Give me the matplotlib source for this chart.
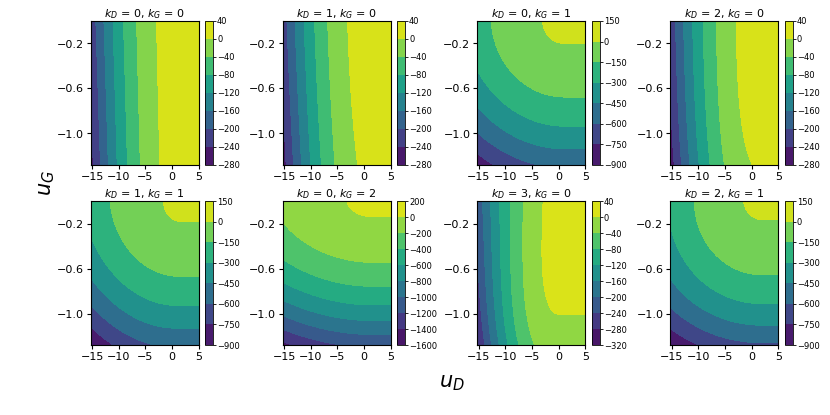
import numpy as np
import matplotlib
matplotlib.use("Agg")
import matplotlib.pyplot as plt

# ---- panel identities -------------------------------------------------------
K_D = [0, 1, 0, 2, 1, 0, 3, 2]
K_G = [0, 0, 1, 0, 1, 2, 0, 1]

# ---- axes ---------------------------------------------------------------------
U_D_RANGE = [-15.25, 5.0]
U_G_RANGE = [-1.28, 0.0]
X_TICKS = [-15, -10, -5, 0, 5]
Y_TICKS = [-1.0, -0.6, -0.2]

# ---- colour-bar levels per panel ------------------------------------------------
LEVEL_LOW = [-280, -280, -900, -280, -900, -1600, -320, -900]
LEVEL_HIGH = [40, 40, 150, 40, 150, 200, 40, 150]
LEVEL_STEP = [40, 40, 150, 40, 150, 200, 40, 150]

# ---- surface ----------------------------------------------------------------------
# value = C(t) - K(t) * max(s - S0(t), 0)**2 ,  s = 5 - u_D ,  t = -u_G
# C(t) = PEAK - DROP * t**DROP_POW - DROP4 * t**4
PEAK = [15.0, 15.0, 14.4, 15.0, 12.5, 14.1, 15.0, 12.0]
DROP = [0.0, 4.27, 360.0, 6.2, 362.0, 720.0, 14.74, 342.0]
DROP_POW = [2, 2, 2, 3, 2, 2, 3.5, 1.865]
DROP4 = [0, 0, 0, 0, 0, 0, 0, 34.0]
CURV0 = [0.90, 0.90, 0.88, 0.90, 0.85, 0.60, 0.90, 1.00]
CURV1 = [0.031, 0.023, 0.10, 0.023, 0.30, 0.33, 0.258, -0.07]
KNEE0 = [3.83, 4.00, 3.94, 3.83, 2.76, 3.33, 3.83, 3.00]
KNEE1 = [-0.414, -0.578, 0.0, -0.35, 1.20, 0.0, 1.281, 0.0]

N_GRID = 120

# ---- layout (pixels in an 830 x 415 canvas) ---------------------------------------
W, H = 830.0, 415.0
COL_LEFT = [90.7, 282.7, 477.3, 670.3]
AX_W = 108.0
ROW_TOP = [21.0, 201.0]
AX_H = 144.0
CB_GAP, CB_W = 6.5, 7.7

fig = plt.figure(figsize=(W / 100, H / 100), dpi=100)

ud = np.linspace(U_D_RANGE[0], U_D_RANGE[1], N_GRID)
ug = np.linspace(U_G_RANGE[0], U_G_RANGE[1], N_GRID)
X, Y = np.meshgrid(ud, ug)
S = U_D_RANGE[1] - X
T = -Y

for i in range(8):
    r, c = divmod(i, 4)
    left = COL_LEFT[c] / W
    bottom = (H - ROW_TOP[r] - AX_H) / H
    ax = fig.add_axes([left, bottom, AX_W / W, AX_H / H])
    cax = fig.add_axes([(COL_LEFT[c] + AX_W + CB_GAP) / W, bottom, CB_W / W, AX_H / H])

    C = PEAK[i] - DROP[i] * T ** DROP_POW[i] - DROP4[i] * T ** 4
    K = CURV0[i] + CURV1[i] * T
    S0 = KNEE0[i] + KNEE1[i] * T
    Z = C - K * np.maximum(S - S0, 0.0) ** 2

    levels = np.arange(LEVEL_LOW[i], LEVEL_HIGH[i] + LEVEL_STEP[i] / 2, LEVEL_STEP[i])
    Z = np.clip(Z, levels[0] + 1e-6, levels[-1] - 1e-6)
    cs = ax.contourf(X, Y, Z, levels=levels, cmap="viridis")

    ax.set_xlim(U_D_RANGE)
    ax.set_ylim(U_G_RANGE)
    ax.set_xticks(X_TICKS)
    ax.set_yticks(Y_TICKS)
    ax.tick_params(labelsize=8, length=3, pad=2)
    ax.set_title(r"$k_D$ = %d, $k_G$ = %d" % (K_D[i], K_G[i]), fontsize=8, pad=3)

    cb = fig.colorbar(cs, cax=cax, ticks=levels)
    cb.outline.set_linewidth(0.6)
    cax.tick_params(labelsize=6, length=2, pad=1, width=0.6)

fig.text(452 / W, 1 - 383 / H, r"$u_D$", fontsize=15, ha="center", va="center")
fig.text(47 / W, 1 - 183 / H, r"$u_G$", fontsize=15, ha="center", va="center", rotation=90)

fig.savefig("out.png", dpi=100)
